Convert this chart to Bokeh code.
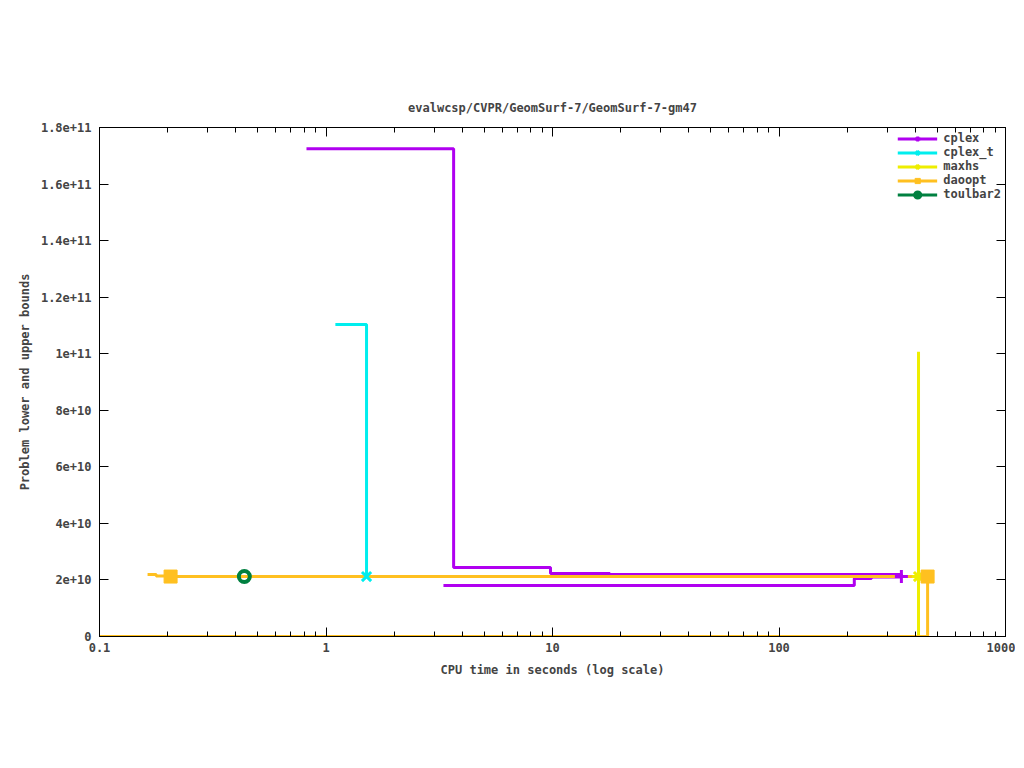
from bokeh.plotting import figure
from bokeh.models import Range1d, LogAxis, LinearAxis, FixedTicker, Legend, LegendItem, Title
from bokeh.embed import file_html
from bokeh.resources import INLINE

title_text = "evalwcsp/CVPR/GeomSurf-7/GeomSurf-7-gm47"
x_label = "CPU time in seconds (log scale)"
y_label = "Problem lower and upper bounds"

x_ticks = [0.1, 1, 10, 100, 1000]
x_tick_labels = ["0.1", "1", "10", "100", "1000"]
y_ticks = [0, 2e10, 4e10, 6e10, 8e10, 1e11, 1.2e11, 1.4e11, 1.6e11, 1.8e11]
y_tick_labels = ["0", "2e+10", "4e+10", "6e+10", "8e+10", "1e+11",
                 "1.2e+11", "1.4e+11", "1.6e+11", "1.8e+11"]

series_names = ["cplex", "cplex_t", "maxhs", "daoopt", "toulbar2"]
series_colors = ["#b000f0", "#00eeee", "#eeee00", "#ffc020", "#008040"]
series_markers = ["cross", "x", "asterisk", "square", "circle"]

# upper bounds (time, value)
cplex_ub_t = [0.82, 3.66, 9.8, 17.9, 347]
cplex_ub_v = [1.725e11, 2.44e10, 2.23e10, 2.19e10, 2.12e10]
cplex_t_ub_t = [1.10, 1.51]
cplex_t_ub_v = [1.103e11, 2.12e10]
maxhs_ub_t = [413, 413]
maxhs_ub_v = [1.007e11, 2.12e10]
daoopt_ub_t = [0.163, 0.178, 0.206, 453]
daoopt_ub_v = [2.19e10, 2.14e10, 2.12e10, 2.12e10]
toulbar2_ub_t = [0.436, 0.436]
toulbar2_ub_v = [2.12e10, 2.12e10]

# lower bounds (time, value)
cplex_lb_t = [3.3, 215, 256, 347]
cplex_lb_v = [1.8e10, 2.05e10, 2.1e10, 2.12e10]
maxhs_lb_t = [413, 413]
maxhs_lb_v = [0, 2.12e10]
daoopt_lb_t = [0.1, 453, 453]
daoopt_lb_v = [0, 0, 2.12e10]

# marker points
cplex_pt_t = [347]
cplex_pt_v = [2.12e10]
cplex_t_pt_t = [1.51]
cplex_t_pt_v = [2.12e10]
maxhs_pt_t = [413]
maxhs_pt_v = [2.12e10]
daoopt_pt_t = [0.206, 453]
daoopt_pt_v = [2.12e10, 2.12e10]
toulbar2_pt_t = [0.436]
toulbar2_pt_v = [2.12e10]

FONT = "DejaVu Sans Mono"
FS = "12px"

p = figure(width=1015, height=759, x_axis_type="log",
           x_range=Range1d(0.1, 1000), y_range=Range1d(0, 1.8e11),
           output_backend="svg", toolbar_location=None,
           min_border_left=99, min_border_right=10, min_border_top=127,
           min_border_bottom=123)
p.background_fill_color = "white"
p.border_fill_color = "white"
p.outline_line_color = "black"
p.outline_line_width = 1
p.xgrid.visible = False
p.ygrid.visible = False

p.title = Title(text=title_text, align="center", text_font=FONT,
                text_font_size=FS, text_font_style="bold", standoff=26)

minor_x = [m * d for d in [0.1, 1, 10, 100] for m in range(2, 10)]

for ax in (p.xaxis[0], p.yaxis[0]):
    ax.major_tick_in = 9
    ax.major_tick_out = 0
    ax.minor_tick_in = 5
    ax.minor_tick_out = 0
    ax.major_label_text_font = FONT
    ax.major_label_text_font_size = FS
    ax.major_label_text_font_style = "bold"
    ax.axis_label_text_font = FONT
    ax.axis_label_text_font_size = FS
    ax.axis_label_text_font_style = "bold"
    ax.axis_line_color = "black"

p.xaxis[0].ticker = FixedTicker(ticks=x_ticks, minor_ticks=minor_x)
p.xaxis[0].major_label_overrides = {t: l for t, l in zip(x_ticks, x_tick_labels)}
p.xaxis[0].axis_label = x_label
p.xaxis[0].major_label_standoff = 6
p.xaxis[0].axis_label_standoff = 8

p.yaxis[0].ticker = FixedTicker(ticks=y_ticks)
p.yaxis[0].major_label_overrides = {t: l for t, l in zip(y_ticks, y_tick_labels)}
p.yaxis[0].axis_label = y_label
p.yaxis[0].major_label_standoff = 8
p.yaxis[0].axis_label_standoff = 6
p.yaxis[0].minor_tick_in = 0

# mirror axes
top = LogAxis(ticker=FixedTicker(ticks=x_ticks, minor_ticks=minor_x),
              major_tick_in=9, major_tick_out=0, minor_tick_in=5, minor_tick_out=0,
              major_label_text_color=None, major_label_text_font_size="6px",
              major_label_standoff=0)
right = LinearAxis(ticker=FixedTicker(ticks=y_ticks), major_tick_in=9, major_tick_out=0,
                   minor_tick_in=0, minor_tick_out=0,
                   major_label_text_color=None, major_label_text_font_size="6px",
                   major_label_standoff=0)
p.add_layout(top, "above")
p.add_layout(right, "right")

LW = 3
ub = {
    "cplex": (cplex_ub_t, cplex_ub_v),
    "cplex_t": (cplex_t_ub_t, cplex_t_ub_v),
    "maxhs": (maxhs_ub_t, maxhs_ub_v),
    "daoopt": (daoopt_ub_t, daoopt_ub_v),
    "toulbar2": (toulbar2_ub_t, toulbar2_ub_v),
}
lb = {
    "cplex": (cplex_lb_t, cplex_lb_v),
    "maxhs": (maxhs_lb_t, maxhs_lb_v),
    "daoopt": (daoopt_lb_t, daoopt_lb_v),
}
pts = {
    "cplex": (cplex_pt_t, cplex_pt_v),
    "cplex_t": (cplex_t_pt_t, cplex_t_pt_v),
    "maxhs": (maxhs_pt_t, maxhs_pt_v),
    "daoopt": (daoopt_pt_t, daoopt_pt_v),
    "toulbar2": (toulbar2_pt_t, toulbar2_pt_v),
}

line_r = {}
for name, col in zip(series_names, series_colors):
    t, v = ub[name]
    line_r[name] = p.step(t, v, mode="after", line_color=col, line_width=LW)
    if name in lb:
        t2, v2 = lb[name]
        p.step(t2, v2, mode="after", line_color=col, line_width=LW)

mark_r = {}
for name, col, mk in zip(series_names, series_colors, series_markers):
    t, v = pts[name]
    if mk == "square":
        mark_r[name] = p.scatter(t, v, marker=mk, size=13, fill_color=col,
                                 line_color=col, line_width=1)
    elif mk == "circle":
        mark_r[name] = p.scatter(t, v, marker=mk, size=11, fill_color=None,
                                 line_color=col, line_width=4)
    else:
        mark_r[name] = p.scatter(t, v, marker=mk, size=13, fill_color=None,
                                 line_color=col, line_width=3)

items = [LegendItem(label=n, renderers=[line_r[n], mark_r[n]]) for n in series_names]
legend = Legend(items=items, location="top_right", border_line_color=None,
                background_fill_alpha=0, label_text_font=FONT, label_text_font_size=FS,
                label_text_font_style="bold", glyph_width=40, glyph_height=13,
                label_height=13, spacing=-1, padding=6, margin=4, label_standoff=6)
p.add_layout(legend)

open("out.html", "w").write(file_html(p, INLINE))
